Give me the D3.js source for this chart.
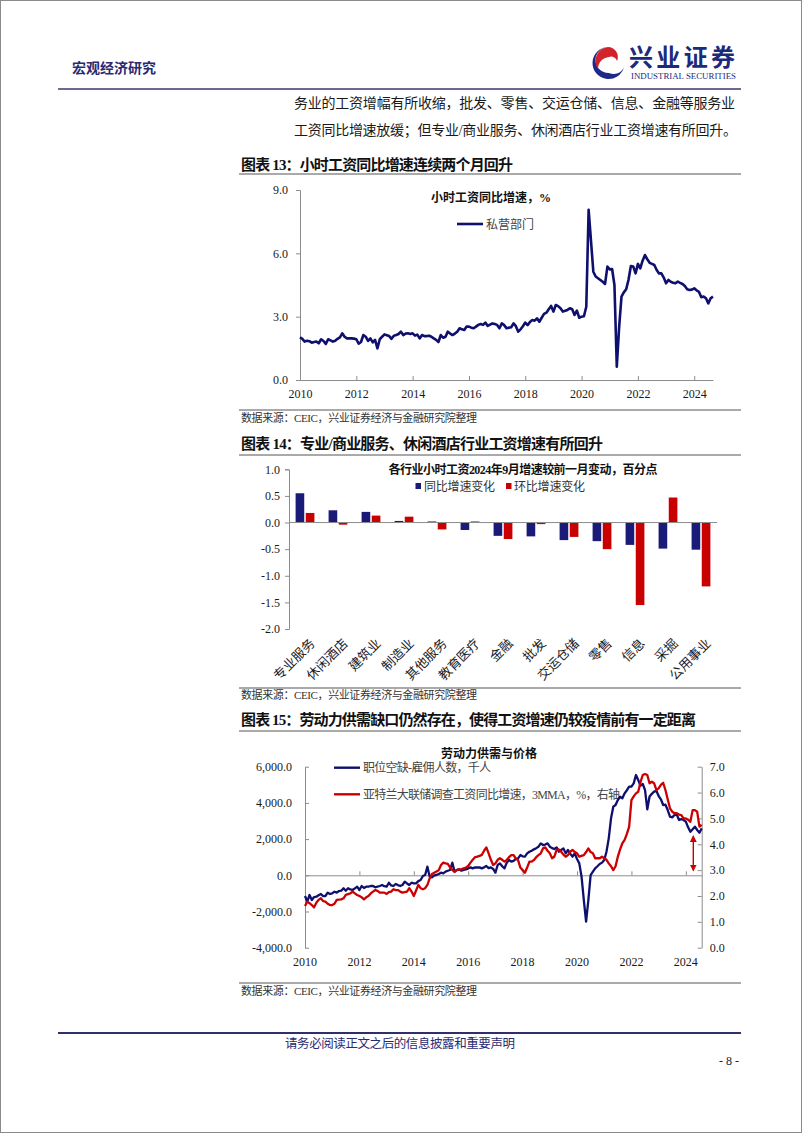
<!DOCTYPE html>
<html><head><meta charset="utf-8">
<script src="https://cdn.jsdelivr.net/npm/d3@7"></script>
<style>
html,body{margin:0;padding:0;background:#fff;}
svg{display:block;}
text{font-family:"Liberation Serif","Noto Sans CJK SC",serif;}
</style></head>
<body>
<svg id="page" width="802" height="1133"></svg>
<script>
// ---------- DATA ----------
// Chart 13: private sector hourly earnings YoY, monthly Jan 2010 - Sep 2024
const wageYoY = [2.02,1.95,1.82,1.86,1.84,1.77,1.80,1.82,1.74,1.93,1.85,1.71,
1.93,1.88,1.82,1.86,1.95,2.02,2.21,2.05,1.97,1.97,1.97,1.96,
1.93,1.72,1.80,2.13,2.05,1.85,1.97,1.78,1.90,1.50,1.93,2.05,
2.16,2.12,2.08,1.95,2.10,2.13,2.18,2.29,2.13,2.20,2.21,2.18,
2.21,2.10,2.15,1.97,2.13,2.08,2.08,2.10,2.05,1.97,1.90,1.80,
2.13,2.00,2.05,2.29,2.20,2.13,2.20,2.29,2.45,2.40,2.37,2.53,
2.53,2.48,2.45,2.53,2.61,2.65,2.61,2.72,2.56,2.62,2.68,2.65,
2.61,2.45,2.68,2.60,2.45,2.48,2.50,2.68,2.55,2.29,2.40,2.55,
2.72,2.60,2.75,2.84,2.81,2.92,2.76,2.95,3.13,3.19,3.35,3.51,
3.24,3.55,3.50,3.40,3.24,3.28,3.32,3.40,3.35,3.08,3.29,2.95,
3.00,3.02,3.47,8.06,6.60,5.13,4.90,4.82,4.74,4.65,4.55,5.37,
5.24,5.26,4.50,0.63,2.50,3.95,4.15,4.30,4.75,5.40,5.38,5.05,
5.50,5.29,5.65,5.92,5.72,5.55,5.50,5.45,5.21,5.05,5.05,4.85,
4.58,4.74,4.65,4.61,4.58,4.66,4.60,4.55,4.45,4.30,4.26,4.28,
4.34,4.25,4.18,3.92,3.95,3.87,3.63,3.87,3.95];
const years = ["2010","2012","2014","2016","2018","2020","2022","2024"];
const yTicks13 = [0,3,6,9];

// Chart 14: change of hourly wage growth by industry, Sep 2024 vs Aug, pp
const industries = ["专业服务","休闲酒店","建筑业","制造业","其他服务","教育医疗","金融","批发","交运仓储","零售","信息","采掘","公用事业"];
const yoyChange = [0.55,0.23,0.20,0.03,0.02,-0.14,-0.25,-0.26,-0.33,-0.35,-0.42,-0.49,-0.51];
const momChange = [0.18,-0.04,0.13,0.11,-0.13,0.02,-0.31,-0.03,-0.27,-0.50,-1.55,0.47,-1.20];
const yTicks14 = [-2,-1.5,-1,-0.5,0,0.5,1];

// Chart 15: job openings minus hires (thousands, left), Atlanta Fed wage tracker 3MMA (%, right), Jan 2010 - Aug 2024
const openingsMinusHires = [-1144,-1458,-1088,-1365,-1200,-1181,-1100,-1033,-1150,-1144,-960,-1033,
-1000,-906,-960,-870,-851,-718,-851,-718,-780,-812,-720,-630,
-812,-591,-700,-630,-620,-591,-591,-663,-620,-591,-536,-600,
-630,-409,-560,-591,-481,-540,-591,-536,-354,-450,-536,-409,
-444,-444,-320,-260,-39,17,477,-77,-113,0,17,72,
146,110,200,250,293,697,200,300,330,256,300,330,
385,440,385,440,430,440,385,440,514,400,440,350,
146,570,660,500,384,700,844,752,800,900,936,1120,
1050,1028,1212,1300,1360,1433,1500,1581,1765,1673,1700,1765,
1581,1500,1450,1544,1305,1400,1489,1212,1397,1200,1028,1212,
900,660,-77,-1366,-2564,-1366,15,199,384,500,623,700,
844,1305,2041,3147,3791,3883,4160,4344,4252,4528,4700,4900,
4896,5081,5541,5265,4950,5044,4700,3644,4350,4500,4620,4675,
4381,4200,3883,3900,3607,3239,3200,3331,3350,3054,3100,3054,
2962,2650,2410,2550,2686,2502,2354,2594];
const atlantaWage = [1.61,1.78,1.72,1.65,1.56,1.74,1.85,1.91,1.80,1.78,1.70,1.65,
1.65,1.70,1.85,1.86,1.87,1.91,2.04,2.07,2.10,2.17,2.10,2.04,
2.00,1.95,1.87,1.95,2.00,2.10,2.17,2.23,2.20,2.13,2.13,2.13,
2.08,2.15,2.17,2.26,2.23,2.23,2.17,2.13,2.15,2.17,2.30,2.17,
2.00,2.21,2.43,2.30,2.26,2.30,2.43,2.68,2.85,2.90,2.95,3.00,
3.20,3.29,3.26,3.24,3.11,3.00,2.94,3.00,3.03,3.03,3.07,3.10,
3.16,3.29,3.40,3.50,3.52,3.55,3.59,3.75,3.88,3.65,3.40,3.20,
3.26,3.40,3.46,3.40,3.33,3.39,3.50,3.58,3.58,3.45,3.39,3.10,
3.00,2.90,3.10,3.33,3.33,3.39,3.50,3.58,3.65,3.84,3.88,3.75,
3.65,3.46,3.52,3.78,3.80,3.71,3.60,3.52,3.58,3.71,3.78,3.70,
3.65,3.52,3.55,3.58,3.70,3.84,3.70,3.65,3.46,3.46,3.46,3.52,
3.46,3.40,3.26,3.15,3.00,3.15,3.52,3.80,4.04,4.17,4.40,4.68,
5.71,5.85,5.97,6.03,6.40,6.68,6.72,6.68,6.36,6.42,6.36,6.10,
6.16,6.30,6.38,6.10,5.74,5.39,5.26,5.20,5.20,5.15,5.13,5.00,
5.00,4.95,4.87,5.32,5.32,5.26,4.68,4.75];
const yTicksL15 = [-4000,-2000,0,2000,4000,6000];
const yTicksR15 = [0,1,2,3,4,5,6,7];
const gapArrow = [3.0, 4.3]; // right-axis span of the marked gap

// ---------- DRAW ----------
const svg = d3.select("#page");
const NAVY = "#0f0f6e", RED = "#cc0000", AXIS = "#8c8c8c", TXT = "#1a1a1a";
const hy = s => s.replace(/\u2212/g, "-");

// page frame
svg.append("rect").attr("x",0.5).attr("y",0.5).attr("width",801).attr("height",1132)
  .attr("fill","none").attr("stroke","#8a8a8a").attr("stroke-width",1);

// header
svg.append("text").attr("x",72).attr("y",73).attr("font-size",14).attr("font-weight","bold")
  .attr("fill","#2a2a72").attr("textLength",84).text("宏观经济研究");
// logo swirl
const lg = svg.append("g").attr("transform","translate(611,63)");
lg.append("path").attr("d","M-3,-16 A16,16 0 1,0 13,4 A11,11 0 0,1 -2,10 A9,9 0 0,1 -3,-16 Z").attr("fill","#1d2a8a");
lg.append("path").attr("d","M-3,-16 A14,14 0 0,0 -13,6 A12,12 0 0,1 -2,-6 A6,6 0 0,1 6,-2 A10,10 0 0,0 -3,-16 Z").attr("fill","#d2232a");
svg.append("text").attr("x",629).attr("y",66).attr("font-size",24).attr("font-weight","bold")
  .attr("fill","#1d2a7a").attr("textLength",106).text("兴业证券");
svg.append("text").attr("x",631).attr("y",79).attr("font-size",7.5).attr("fill","#1d2a7a")
  .attr("textLength",105).attr("lengthAdjust","spacingAndGlyphs").text("INDUSTRIAL SECURITIES");
svg.append("line").attr("x1",58).attr("x2",741).attr("y1",89).attr("y2",89).attr("stroke","#3a3a6e").attr("stroke-width",1.5);

// paragraph
svg.append("text").attr("x",294).attr("y",108).attr("font-size",14).attr("fill",TXT)
  .attr("textLength",441).text("务业的工资增幅有所收缩，批发、零售、交运仓储、信息、金融等服务业");
svg.append("text").attr("x",294).attr("y",135).attr("font-size",14).attr("fill",TXT)
  .attr("textLength",443).text("工资同比增速放缓；但专业/商业服务、休闲酒店行业工资增速有所回升。");

function sectionTitle(txt, y, len){
  svg.append("text").attr("x",241).attr("y",y).attr("font-size",15).attr("font-weight","bold")
    .attr("fill","#111").attr("textLength",len).text(txt);
}
function rule(y, w){
  svg.append("line").attr("x1",239).attr("x2",741).attr("y1",y).attr("y2",y).attr("stroke","#555").attr("stroke-width",w||1);
}
function source(y){
  svg.append("text").attr("x",241).attr("y",y).attr("font-size",11).attr("fill","#333")
    .attr("textLength",236).text("数据来源：CEIC，兴业证券经济与金融研究院整理");
}

// ===== Chart 13 =====
sectionTitle("图表 13：小时工资同比增速连续两个月回升", 170, 272);
rule(174);
const x13 = d3.scaleLinear().domain([0,176]).range([300,713]);
const y13 = d3.scaleLinear().domain([0,9]).range([380,190]);
const g13 = svg.append("g");
const ax13y = g13.append("g").attr("transform","translate(300,0)")
  .call(d3.axisLeft(y13).tickValues(yTicks13).tickFormat(d3.format(".1f")).tickSize(4).tickPadding(8));
const ax13x = g13.append("g").attr("transform","translate(0,380)")
  .call(d3.axisBottom(x13).tickValues(years.map(y=>(+y-2010)*12)).tickFormat((d,i)=>years[i]).tickSizeInner(-4).tickSizeOuter(0).tickPadding(9));
[ax13y, ax13x].forEach(a=>{a.selectAll("path,line").attr("stroke",AXIS);
  a.selectAll("text").attr("font-size",12).attr("fill",TXT).attr("font-family","Liberation Serif");});
g13.append("path").datum(wageYoY).attr("fill","none").attr("stroke",NAVY).attr("stroke-width",2.6)
  .attr("stroke-linejoin","round")
  .attr("d", d3.line().x((d,i)=>x13(i)).y(d=>y13(d)));
g13.append("text").attr("x",491).attr("y",202).attr("text-anchor","middle").attr("font-size",12)
  .attr("font-weight","bold").attr("fill","#111").text("小时工资同比增速，%");
g13.append("line").attr("x1",457).attr("x2",483).attr("y1",224).attr("y2",224).attr("stroke",NAVY).attr("stroke-width",2.6);
g13.append("text").attr("x",486).attr("y",228.5).attr("font-size",12).attr("fill","#444").text("私营部门");
rule(410);
source(422);

// ===== Chart 14 =====
sectionTitle("图表 14：专业/商业服务、休闲酒店行业工资增速有所回升", 449, 362);
rule(455);
const x14 = d3.scaleBand().domain(industries).range([289,717]).paddingInner(0.43).paddingOuter(0.2);
const s14 = d3.scaleBand().domain(["yoy","mom"]).range([0,x14.bandwidth()]).paddingInner(0.15);
const y14 = d3.scaleLinear().domain([-2,1]).range([629,469.3]);
const g14 = svg.append("g");
const ax14 = g14.append("g").attr("transform","translate(289,0)")
  .call(d3.axisLeft(y14).tickValues(yTicks14).tickFormat(d=>hy(d3.format(".1f")(d))).tickSize(4).tickPadding(5));
ax14.selectAll("path,line").attr("stroke",AXIS);
ax14.selectAll("text").attr("font-size",12).attr("fill",TXT).attr("font-family","Liberation Serif");
const rows14 = industries.map((c,i)=>({c, yoy:yoyChange[i], mom:momChange[i]}));
["yoy","mom"].forEach(k=>{
  g14.selectAll("rect."+k).data(rows14).enter().append("rect").attr("class",k)
    .attr("x",d=>x14(d.c)+s14(k)).attr("width",s14.bandwidth())
    .attr("y",d=>y14(Math.max(0,d[k]))).attr("height",d=>Math.abs(y14(d[k])-y14(0)))
    .attr("fill", k==="yoy" ? "#1a1a78" : "#c80000");
});
g14.append("line").attr("x1",289).attr("x2",717).attr("y1",y14(0)).attr("y2",y14(0)).attr("stroke",AXIS);
g14.selectAll("text.cat").data(industries).enter().append("text").attr("class","cat")
  .attr("transform",d=>`translate(${x14(d)+x14.bandwidth()/2+7.5},${641}) rotate(-45)`)
  .attr("text-anchor","end").attr("dy","0.35em").attr("font-size",13).attr("fill",TXT).text(d=>d);
g14.append("text").attr("x",523).attr("y",474).attr("text-anchor","middle").attr("font-size",12)
  .attr("font-weight","bold").attr("fill","#111").attr("textLength",269).text("各行业小时工资2024年9月增速较前一月变动，百分点");
g14.append("rect").attr("x",415.5).attr("y",483).attr("width",5.5).attr("height",6).attr("fill","#1a1a78");
g14.append("text").attr("x",424).attr("y",491).attr("font-size",12).attr("fill","#333").attr("textLength",71).text("同比增速变化");
g14.append("rect").attr("x",506).attr("y",483).attr("width",5.5).attr("height",6).attr("fill","#c80000");
g14.append("text").attr("x",514).attr("y",491).attr("font-size",12).attr("fill","#333").attr("textLength",71).text("环比增速变化");
rule(688);
source(699);

// ===== Chart 15 =====
sectionTitle("图表 15：劳动力供需缺口仍然存在，使得工资增速仍较疫情前有一定距离", 725, 455);
rule(731);
const x15 = d3.scaleLinear().domain([0,175]).range([305,701.7]);
const yL = d3.scaleLinear().domain([-4000,6000]).range([947.7,766.7]);
const yR = d3.scaleLinear().domain([0,7]).range([947.7,766.7]);
const g15 = svg.append("g");
const axL = g15.append("g").attr("transform","translate(305,0)")
  .call(d3.axisLeft(yL).tickValues(yTicksL15).tickFormat(d=>hy(d3.format(",.1f")(d))).tickSizeInner(-4).tickSizeOuter(0).tickPadding(13));
const axR = g15.append("g").attr("transform","translate(701.7,0)")
  .call(d3.axisRight(yR).tickValues(yTicksR15).tickFormat(d3.format(".1f")).tickSizeInner(-4).tickSizeOuter(0).tickPadding(8));
const axX = g15.append("g").attr("transform",`translate(0,${yL(0)})`)
  .call(d3.axisBottom(x15).tickValues(years.map(y=>(+y-2010)*12)).tickFormat("").tickSizeInner(-4).tickSizeOuter(0));
[axL,axR,axX].forEach(a=>{a.selectAll("path,line").attr("stroke",AXIS);
  a.selectAll("text").attr("font-size",12).attr("fill",TXT).attr("font-family","Liberation Serif");});
g15.selectAll("text.yr").data(years).enter().append("text").attr("class","yr")
  .attr("x",d=>x15((+d-2010)*12)).attr("y",966).attr("text-anchor","middle")
  .attr("font-size",12).attr("fill",TXT).attr("font-family","Liberation Serif").text(d=>d);
g15.append("text").attr("x",489).attr("y",757.5).attr("text-anchor","middle").attr("font-size",12)
  .attr("font-weight","bold").attr("fill","#111").text("劳动力供需与价格");
// legend (under the lines)
g15.append("line").attr("x1",334).attr("x2",360).attr("y1",767.7).attr("y2",767.7).attr("stroke",NAVY).attr("stroke-width",2.4);
g15.append("text").attr("x",363).attr("y",772).attr("font-size",12).attr("fill","#444").attr("textLength",128).text("职位空缺-雇佣人数，千人");
g15.append("line").attr("x1",334).attr("x2",360).attr("y1",794.3).attr("y2",794.3).attr("stroke",RED).attr("stroke-width",2.4);
g15.append("text").attr("x",363).attr("y",798.5).attr("font-size",12).attr("fill","#444").attr("textLength",257).text("亚特兰大联储调查工资同比增速，3MMA，%，右轴");
g15.append("path").datum(openingsMinusHires).attr("fill","none").attr("stroke",NAVY).attr("stroke-width",2.3)
  .attr("stroke-linejoin","round").attr("d", d3.line().x((d,i)=>x15(i)).y(d=>yL(d)));
g15.append("path").datum(atlantaWage).attr("fill","none").attr("stroke",RED).attr("stroke-width",2.3)
  .attr("stroke-linejoin","round").attr("d", d3.line().x((d,i)=>x15(i)).y(d=>yR(d)));
// double arrow
const defs = svg.append("defs");
defs.append("marker").attr("id","ah").attr("viewBox","0 0 10 10").attr("refX",8).attr("refY",5)
  .attr("markerWidth",5).attr("markerHeight",5).attr("orient","auto-start-reverse")
  .append("path").attr("d","M0,0 L10,5 L0,10 Z").attr("fill",RED);
g15.append("line").attr("x1",693.3).attr("x2",693.3).attr("y1",yR(gapArrow[1])).attr("y2",yR(gapArrow[0]))
  .attr("stroke",RED).attr("stroke-width",1.4).attr("marker-start","url(#ah)").attr("marker-end","url(#ah)");
rule(983);
source(995);

// footer
svg.append("line").attr("x1",58).attr("x2",741).attr("y1",1033).attr("y2",1033).attr("stroke","#2f2f6e").attr("stroke-width",2);
svg.append("text").attr("x",400).attr("y",1048).attr("text-anchor","middle").attr("font-size",12.5)
  .attr("fill","#2a2a72").attr("textLength",230).text("请务必阅读正文之后的信息披露和重要声明");
svg.append("text").attr("x",739).attr("y",1065).attr("text-anchor","end").attr("font-size",12)
  .attr("fill","#222").text("- 8 -");
</script>
</body></html>
